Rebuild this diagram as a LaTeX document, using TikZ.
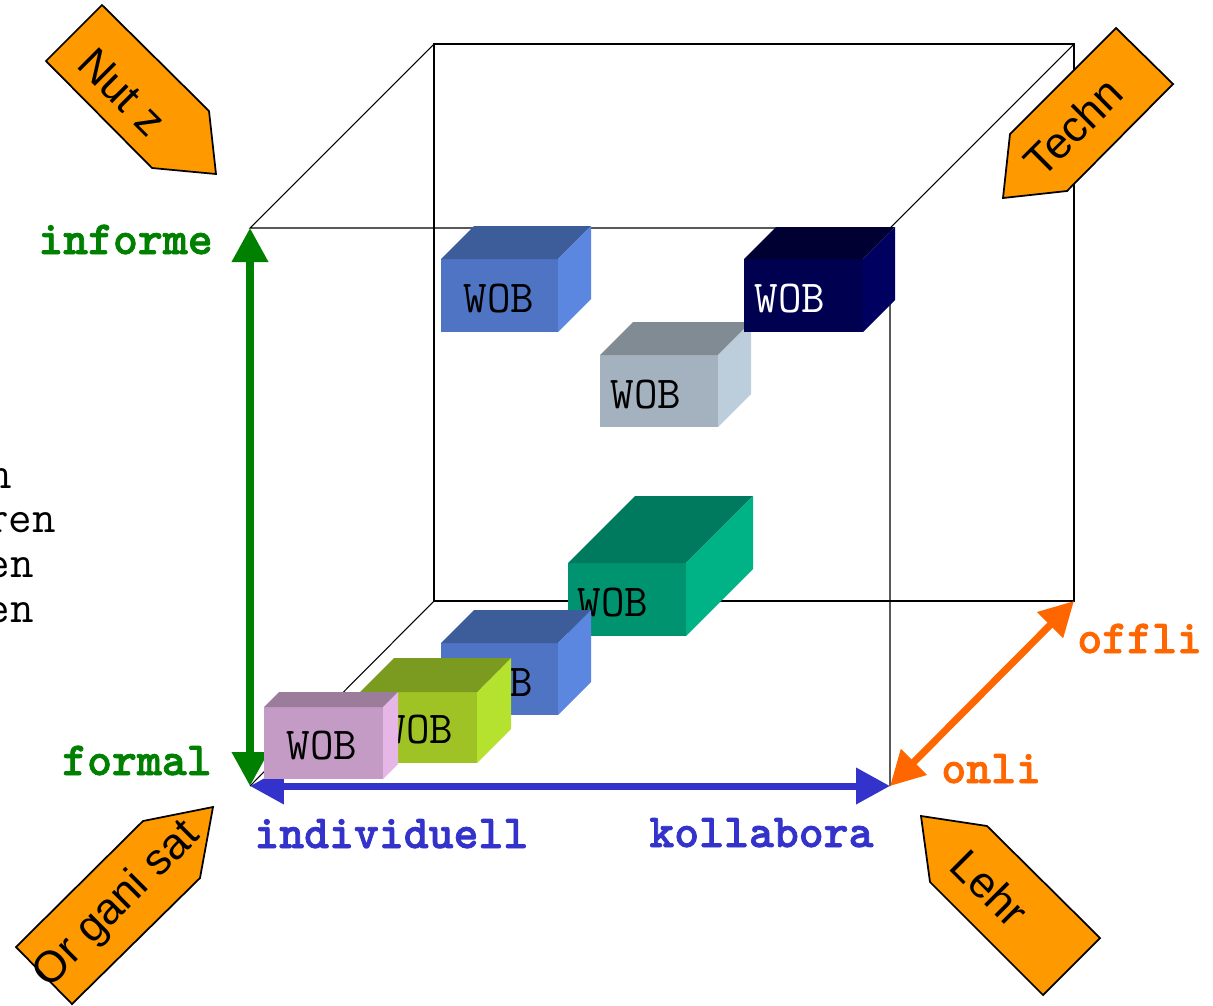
\documentclass[tikz,border=0pt]{standalone}
\usepackage{fontspec}
\setmainfont{Liberation Sans}
\newfontfamily\labelfont[FakeBold=1.6]{lmmonolt10-bold.otf}
\usetikzlibrary{arrows.meta}
\definecolor{tagorange}{HTML}{FF9900}
\definecolor{axgreen}{HTML}{008000}
\definecolor{axblue}{HTML}{3333CC}
\definecolor{axorange}{HTML}{FF6600}
\definecolor{blueF}{HTML}{4F74C4}
\definecolor{blueT}{HTML}{3D5C9A}
\definecolor{blueS}{HTML}{5B87E0}
\definecolor{grayF}{HTML}{A3B2BE}
\definecolor{grayT}{HTML}{818B93}
\definecolor{grayS}{HTML}{BCCDDC}
\definecolor{navyF}{HTML}{000050}
\definecolor{navyT}{HTML}{000033}
\definecolor{navyS}{HTML}{000060}
\definecolor{tealF}{HTML}{00936F}
\definecolor{tealT}{HTML}{007A5E}
\definecolor{tealS}{HTML}{00B386}
\definecolor{oliveF}{HTML}{9FC324}
\definecolor{oliveT}{HTML}{7A9A20}
\definecolor{oliveS}{HTML}{B5E22E}
\definecolor{pinkF}{HTML}{C49BC4}
\definecolor{pinkT}{HTML}{9B7D9B}
\definecolor{pinkS}{HTML}{E6B6E6}
\tikzset{
  edge/.style={line width=0.6pt},
  axis/.style={line width=4pt,{Triangle[length=0.68cm,width=0.7cm]}-{Triangle[length=0.68cm,width=0.7cm]}},
  tag/.style={draw,fill=tagorange,line width=1pt,line join=miter},
  tagtext/.style={font=\fontsize{25}{25}\selectfont,inner sep=0},
  axlabel/.style={font=\labelfont\fontsize{27}{27}\selectfont,inner sep=0},
  wobtext/.style={font=\ttfamily\fontsize{26}{26}\selectfont,inner sep=0},
}
% x y w h depth front top side
\newcommand{\wobbox}[8]{
  \fill[#6] (#1,#2) rectangle ++(#3,#4);
  \fill[#7] (#1,#2) -- ++(#5,-#5) -- ++(#3,0) -- ++(-#5,#5) -- cycle;
  \fill[#8] (#1+#3,#2) -- ++(#5,-#5) -- ++(0,#4) -- ++(-#5,#5) -- cycle;
}

\begin{document}
\begin{tikzpicture}[x=0.02cm,y=-0.02cm]
\useasboundingbox (0,0) rectangle (1213,1005);

\coordinate (ftl) at (250,228);
\coordinate (ftr) at (890,228);
\coordinate (fbl) at (250,786);
\coordinate (fbr) at (890,786);
\coordinate (btl) at (434,44);
\coordinate (btr) at (1074,44);
\coordinate (bbl) at (434,601);
\coordinate (bbr) at (1074,601);

\draw[edge] (btl) -- (btr) -- (bbr) -- (bbl) -- cycle;
\draw[edge] (btl) -- (ftl) -- (ftr) -- (fbr);
\draw[edge] (ftr) -- (btr);
\draw[edge] (fbl) -- (bbl);

\draw[axis,axgreen] (ftl) -- (fbl);
\draw[axis,axblue] (fbl) -- (fbr);
\draw[axis,axorange] (fbr) -- (bbr);

\node[wobtext,anchor=base east] (frag1) at (12,488) {n};
\node[wobtext,anchor=base east] (frag2) at (56,532) {ren};
\node[wobtext,anchor=base east] (frag3) at (34,577) {en};
\node[wobtext,anchor=base east] (frag4) at (34,622) {en};

\node[axlabel,axgreen,anchor=base east] (informe) at (213,254) {informe};
\node[axlabel,axgreen,anchor=base east] (formal) at (212,775) {formal};
\node[axlabel,axblue,anchor=base west] (indiv) at (254,848) {individuell};
\node[axlabel,axblue,anchor=base west] (kollab) at (649,847) {kollabora};
\node[axlabel,axorange,anchor=base west] (offli) at (1077,653) {offli};
\node[axlabel,axorange,anchor=base west] (onli) at (941,783) {onli};

\wobbox{441}{259}{117}{73}{33}{blueF}{blueT}{blueS}
\node[wobtext] (wob1) at (499,299) {WOB};
\wobbox{600}{355}{118}{72}{33}{grayF}{grayT}{grayS}
\node[wobtext] (wob2) at (646,395) {WOB};
\wobbox{744}{259}{119}{73}{32}{navyF}{navyT}{navyS}
\node[wobtext,white] (wob3) at (790,299) {WOB};
\wobbox{568}{563}{118}{73}{67}{tealF}{tealT}{tealS}
\node[wobtext] (wob4) at (613,603) {WOB};
\wobbox{441}{643}{117}{72}{33}{blueF}{blueT}{blueS}
\node[wobtext] (wob5) at (498,683) {WOB};
\wobbox{360}{692}{117}{71}{34}{oliveF}{oliveT}{oliveS}
\node[wobtext] (wob6) at (418,730) {WOB};
\wobbox{264}{707}{119}{72}{15}{pinkF}{pinkT}{pinkS}
\node[wobtext] (wob7) at (322,746) {WOB};

\draw[tag] (46,61) -- (102,5) -- (209,111) -- (216,174) -- (152,168) -- cycle;
\node[tagtext,rotate=-45] (nutz) at (122,92) {Nut z};
\draw[tag] (1116,28) -- (1173,84) -- (1067,191) -- (1003,198) -- (1010,134) -- cycle;
\node[tagtext,rotate=45] (techn) at (1073,127) {Techn};
\draw[tag] (16,947) -- (143,821) -- (213,807) -- (200,878) -- (72,1004) -- cycle;
\node[tagtext,rotate=45] (organi) at (117,905) {Or gani sat};
\draw[tag] (921,816) -- (987,826) -- (1100,938) -- (1043,995) -- (930,882) -- cycle;
\node[tagtext,rotate=-45] (lehr) at (990,888) {Lehr};
\end{tikzpicture}
\end{document}
